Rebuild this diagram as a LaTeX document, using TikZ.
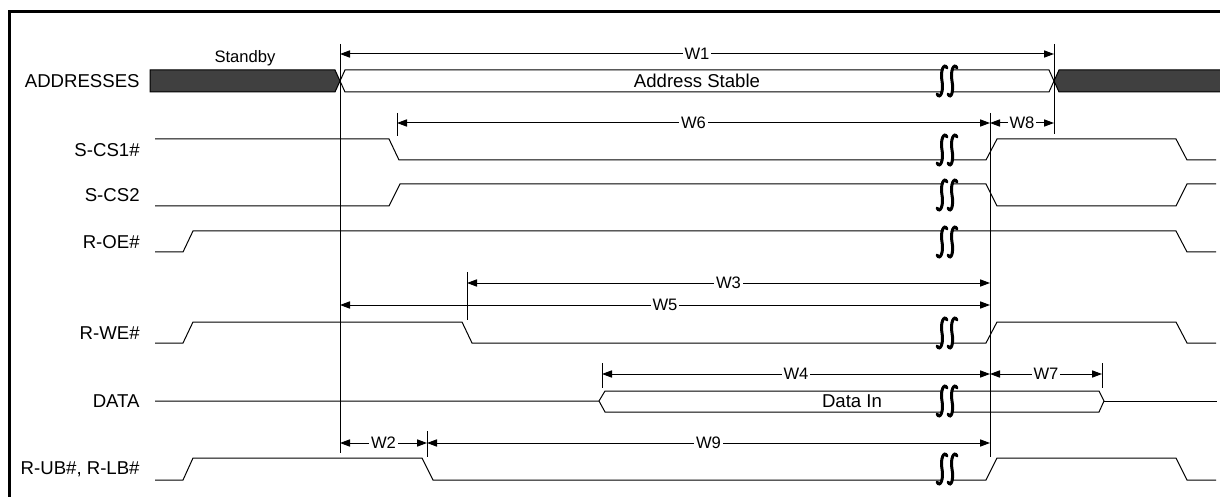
\documentclass[tikz,border=0pt]{standalone}
\usepackage{fontspec}
\setmainfont{Liberation Sans}
\usetikzlibrary{arrows.meta}
\definecolor{busgrey}{HTML}{404040}

\tikzset{brk/.pic={
    \fill[white] (5,-13) .. controls (2,-19) and (-2,-10) .. (0,0) .. controls (2,10) and (-2,19) .. (-5,13)
      -- (6,13) .. controls (9,19) and (12,10) .. (10,0) .. controls (8,-10) and (12,-19) .. (15,-13) -- cycle;
    \draw[line width=1.5pt,line cap=round] (5,-13) .. controls (2,-19) and (-2,-10) .. (0,0) .. controls (2,10) and (-2,19) .. (-5,13);
    \draw[line width=1.5pt,line cap=round] (15,-13) .. controls (12,-19) and (8,-10) .. (10,0) .. controls (12,10) and (9,19) .. (6,13);
}}

\begin{document}
\begin{tikzpicture}[x=0.5pt,y=-0.5pt,
    sig/.style={draw,line width=0.5pt},
    dim/.style={line width=0.5pt,{Triangle[length=5pt,width=3.6pt]}-{Triangle[length=5pt,width=3.6pt]}},
    wlab/.style={fill=white,inner sep=1pt,font=\fontsize{8.3}{10}\selectfont},
    signame/.style={anchor=east,inner sep=0pt,font=\fontsize{9.3}{11}\selectfont},
    buslab/.style={inner sep=0pt,font=\fontsize{9.3}{11}\selectfont}]
\useasboundingbox (0,0) rectangle (1220,497);
\draw[line width=1.5pt] (9,497) -- (9,12) -- (1220,12);

% signal names
\node[signame] (addr) at (140,81) {ADDRESSES};
\node[signame] (cs1) at (140,150) {S-CS1\#};
\node[signame] (cs2) at (140,195) {S-CS2};
\node[signame] (oe) at (140,242) {R-OE\#};
\node[signame] (we) at (140,333) {R-WE\#};
\node[signame] (data) at (140,401) {DATA};
\node[signame] (ub) at (140,469) {R-UB\#, R-LB\#};

% waveforms
\draw[sig,fill=busgrey] (150,70) -- (335,70) -- (340,81) -- (335,92) -- (150,92) -- cycle;
\draw[sig] (340,81) -- (345,70) -- (1049,70) -- (1054,81) -- (1049,92) -- (345,92) -- cycle;
\draw[sig,fill=busgrey] (1054,81) -- (1059,70) -- (1225,70) -- (1225,92) -- (1059,92) -- cycle;
\draw[sig] (155,139) -- (389,139) -- (399,160) -- (986,160) -- (997,139) -- (1176,139) -- (1187,160) -- (1216,160);
\draw[sig] (155,206) -- (389,206) -- (400,184) -- (986,184) -- (997,206) -- (1176,206) -- (1187,184) -- (1216,184);
\draw[sig] (155,252) -- (183,252) -- (193,231) -- (1176,231) -- (1187,252) -- (1216,252);
\draw[sig] (155,343) -- (183,343) -- (193,322) -- (462,322) -- (472,343) -- (986,343) -- (997,322) -- (1176,322) -- (1187,343) -- (1216,343);
\draw[sig] (155,401) -- (599,401) -- (605,391) -- (1099,391) -- (1104,401) -- (1099,412) -- (605,412) -- (599,401);
\draw[sig] (1104,401) -- (1217,401);
\draw[sig] (155,480) -- (183,480) -- (193,458) -- (422,458) -- (433,480) -- (986,480) -- (997,458) -- (1176,458) -- (1187,480) -- (1216,480);

\node[font=\fontsize{8.3}{10}\selectfont] (stb) at (245,58) {Standby};
\node[buslab] (stable) at (697,81) {Address Stable};
\node[buslab] (din) at (852,401) {Data In};

% breaks
\foreach \y in {81,150,195,242,333,401,469}
  \pic at (942,\y) {brk};

% reference lines
\draw[sig] (340,44) -- (340,453);
\draw[sig] (990,113) -- (990,457);
\draw[sig] (1054,44) -- (1054,134);
\draw[sig] (397,113) -- (397,136);
\draw[sig] (467,272) -- (467,320);
\draw[sig] (602,363) -- (602,388);
\draw[sig] (1102,363) -- (1102,388);
\draw[sig] (427,431) -- (427,457);

% dimensions
\coordinate (w1a) at (340,54);
\coordinate (w1b) at (1054,54);
\coordinate (w6a) at (397,123);
\coordinate (w6b) at (990,123);
\coordinate (w8b) at (1054,123);
\coordinate (w3a) at (467,283);
\coordinate (w3b) at (990,283);
\coordinate (w5a) at (340,305);
\coordinate (w5b) at (990,305);
\coordinate (w4a) at (602,374);
\coordinate (w4b) at (990,374);
\coordinate (w7b) at (1102,374);
\coordinate (w2a) at (340,443);
\coordinate (w2b) at (427,443);
\coordinate (w9b) at (990,443);
\draw[dim] (w1a) -- node[wlab] {W1} (w1b);
\draw[dim] (w6a) -- node[wlab] {W6} (w6b);
\draw[dim] (w6b) -- node[wlab] {W8} (w8b);
\draw[dim] (w3a) -- node[wlab] {W3} (w3b);
\draw[dim] (w5a) -- node[wlab] {W5} (w5b);
\draw[dim] (w4a) -- node[wlab] {W4} (w4b);
\draw[dim] (w4b) -- node[wlab] {W7} (w7b);
\draw[dim] (w2a) -- node[wlab] {W2} (w2b);
\draw[dim] (w2b) -- node[wlab] {W9} (w9b);
\end{tikzpicture}
\end{document}
